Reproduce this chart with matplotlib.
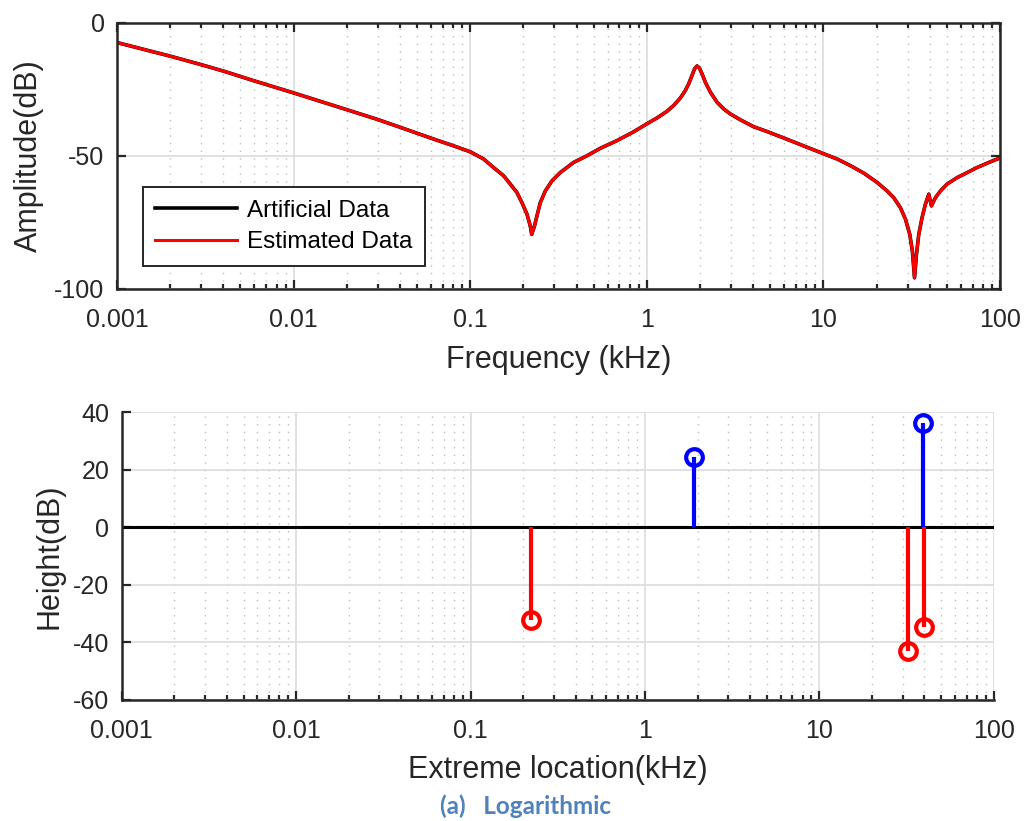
import matplotlib
matplotlib.use("Agg")
import matplotlib.pyplot as plt
from matplotlib.ticker import LogLocator, FixedLocator, NullFormatter, FixedFormatter

plt.rcParams['font.family'] = ['Liberation Sans', 'DejaVu Sans']
plt.rcParams['axes.unicode_minus'] = False

# Frequency response samples (kHz, dB)
freq_khz = [0.001, 0.002, 0.003, 0.004, 0.006, 0.01, 0.02, 0.03, 0.0401, 0.0619,
            0.08, 0.1, 0.119, 0.1355, 0.1545, 0.1686, 0.1839, 0.1963, 0.2096, 0.2187,
            0.223, 0.2313, 0.2386, 0.2493, 0.2662, 0.2904, 0.3236, 0.3846, 0.458, 0.545,
            0.678, 0.842, 1.0, 1.142, 1.301, 1.419, 1.549, 1.652, 1.726, 1.804,
            1.866, 1.924, 1.983, 2.054, 2.145, 2.29, 2.498, 2.723, 2.972, 3.387,
            4.03, 4.8, 6.22, 8.08, 10.0, 11.95, 14.22, 16.92, 20.14, 22.95,
            25.0, 27.3, 29.15, 30.83, 31.9, 32.8, 33.65, 34.67, 36.2, 37.8,
            39.5, 40.9, 43.1, 46.0, 50.2, 57.2, 65.2, 74.2, 86.5, 100.0]
amp_artificial = [-7.5, -12.6, -15.8, -18.2, -21.9, -26.4, -32.7, -36.4, -39.3, -43.7,
                  -46.2, -48.5, -51.2, -54.4, -57.5, -60.6, -63.8, -67.6, -71.9, -76.3,
                  -79.5, -76.3, -72.6, -67.6, -63.2, -59.4, -56.3, -52.5, -50.0, -47.2,
                  -44.3, -41.0, -38.0, -35.8, -33.3, -31.1, -28.3, -25.5, -23.0, -19.8,
                  -17.3, -16.3, -17.0, -19.2, -22.4, -26.1, -29.9, -32.4, -34.3, -36.5,
                  -39.1, -40.9, -43.8, -46.8, -49.2, -51.2, -53.7, -56.5, -60.0, -63.2,
                  -65.7, -69.5, -73.8, -79.5, -85.8, -95.8, -87.0, -79.5, -73.2, -68.2,
                  -64.4, -68.8, -65.7, -63.2, -60.6, -58.2, -56.3, -54.4, -52.5, -50.8]
amp_estimated = list(amp_artificial)

# Extreme points (kHz, dB)
valley_loc = [0.222, 32.2, 40.0]
valley_height = [-32.1, -43.1, -34.8]
peak_loc = [1.91, 39.4]
peak_height = [24.5, 36.3]

x_ticks = [0.001, 0.01, 0.1, 1, 10, 100]
x_ticklabels = ['0.001', '0.01', '0.1', '1', '10', '100']
top_yticks = [-100, -50, 0]
bottom_yticks = [-60, -40, -20, 0, 20, 40]

AX_COLOR = '#262626'
GRID_COLOR = '#dcdcdc'
MINOR_COLOR = '#bdbdbd'

fig = plt.figure(figsize=(10.32, 8.21), dpi=100)
ax1 = fig.add_axes([0.1134, 0.648, 0.8556, 0.3245])
ax2 = fig.add_axes([0.118, 0.1474, 0.845, 0.3506])


def style_log_axis(ax, box):
    ax.set_xscale('log')
    ax.set_xlim(0.001, 100)
    ax.xaxis.set_major_locator(FixedLocator(x_ticks))
    ax.xaxis.set_major_formatter(FixedFormatter(x_ticklabels))
    ax.xaxis.set_minor_locator(LogLocator(base=10, subs=range(2, 10), numticks=20))
    ax.xaxis.set_minor_formatter(NullFormatter())
    ax.grid(True, which='major', color=GRID_COLOR, lw=1.2, ls='-')
    ax.grid(True, which='minor', axis='x', color=MINOR_COLOR, lw=1.0,
            ls=(0, (1, 4.5)))
    ax.set_axisbelow(True)
    ax.tick_params(which='both', direction='in', colors=AX_COLOR,
                   labelsize=18, width=1.6, top=box, right=box)
    ax.tick_params(which='major', length=6.5)
    ax.tick_params(which='minor', length=3.5)
    ax.tick_params(axis='x', which='major', pad=14)
    ax.tick_params(axis='y', which='major', pad=9)
    for side, sp in ax.spines.items():
        sp.set_color(AX_COLOR)
        sp.set_linewidth(1.8)
        if not box and side in ('top', 'right'):
            sp.set_visible(False)
    for lab in ax.get_xticklabels() + ax.get_yticklabels():
        lab.set_color(AX_COLOR)


# Top: amplitude response
style_log_axis(ax1, box=True)
ax1.plot(freq_khz, amp_artificial, color='black', lw=2.6, label='Artificial Data')
ax1.plot(freq_khz, amp_estimated, color='#ff0000', lw=2.2, label='Estimated Data')
ax1.set_ylim(-100, 0)
ax1.set_yticks(top_yticks)
ax1.set_xlabel('Frequency (kHz)', fontsize=22, color=AX_COLOR, labelpad=9)
ax1.set_ylabel('Amplitude(dB)', fontsize=22, color=AX_COLOR)
ax1.yaxis.set_label_coords(-0.083, 0.5)
leg = ax1.legend(loc='lower left', bbox_to_anchor=(0.029, 0.088), fontsize=17.5,
                 frameon=True, fancybox=False, framealpha=1, edgecolor=AX_COLOR,
                 handlelength=3.4, handletextpad=0.4, borderpad=0.5,
                 labelspacing=0.4, borderaxespad=0)
leg.get_frame().set_linewidth(1.4)

# Bottom: extreme locations and heights
style_log_axis(ax2, box=False)
ax2.axhline(0, color='black', lw=2.2, zorder=2)
ax2.vlines(valley_loc, 0, valley_height, color='#ff0000', lw=3.0, zorder=3)
ax2.vlines(peak_loc, 0, peak_height, color='#0000ff', lw=3.0, zorder=3)
ax2.plot(valley_loc, valley_height, 'o', ms=12, mfc='none', mec='#ff0000',
         mew=3.0, zorder=4)
ax2.plot(peak_loc, peak_height, 'o', ms=12, mfc='none', mec='#0000ff',
         mew=3.0, zorder=4)
ax2.set_ylim(-60, 40)
ax2.set_yticks(bottom_yticks)
ax2.set_xlabel('Extreme location(kHz)', fontsize=22, color=AX_COLOR, labelpad=8)
ax2.set_ylabel('Height(dB)', fontsize=22, color=AX_COLOR)
ax2.yaxis.set_label_coords(-0.066, 0.5)

fig.text(0.509, 0.008, '(a)   Logarithmic', fontsize=17.5, fontweight='bold',
         color='#4F81BD', ha='center', va='baseline', family=['Lato', 'DejaVu Sans'])

fig.savefig('out.png', dpi=100)
